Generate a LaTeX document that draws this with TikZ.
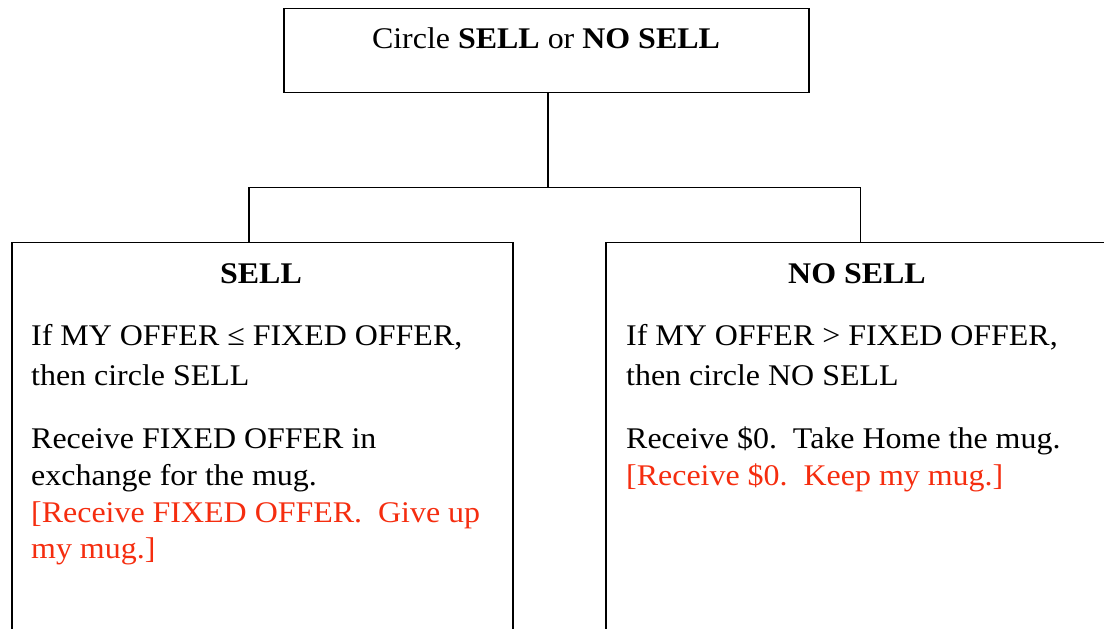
\documentclass[tikz,border=0pt]{standalone}
\usepackage{fontspec}
\setmainfont[FakeStretch=1.065]{Liberation Serif}
\definecolor{redtxt}{RGB}{245,45,15}
\begin{document}
\begin{tikzpicture}[x=1pt,y=-1pt,
  box/.style={draw,line width=1.8pt,inner sep=0pt},
  ln/.style={anchor=base west,inner sep=0pt,font=\fontsize{30}{37}\selectfont},
  hd/.style={anchor=base,inner sep=0pt,font=\fontsize{30}{37}\selectfont\bfseries},
  conn/.style={line width=1.8pt}]
\useasboundingbox (0,0) rectangle (1104,629);
\clip (0,0) rectangle (1104,629);
% boxes
\node[box,minimum width=525pt,minimum height=84pt] (top) at (546.5,50.5) {};
\node[box,minimum width=501pt,minimum height=420pt] (lb) at (262.5,452.5) {};
\node[box,minimum width=510pt,minimum height=420pt] (rb) at (861,452.5) {};
% connectors
\coordinate (j) at (548,187.5);
\coordinate (jl) at (249,187.5);
\coordinate (jr) at (860.5,187.5);
\draw[conn] (j |- top.south) -- (j);
\draw[conn] (jl |- lb.north) -- (jl) -- (jr) -- (jr |- rb.north);
% top text
\node[anchor=base,inner sep=0pt,font=\fontsize{30}{37}\selectfont] (tt) at (546,48.5) {Circle \textbf{SELL} or \textbf{NO SELL}};
% left text
\node[hd] (lh) at (261,283) {SELL};
\node[ln] (l1) at (31,345) {If MY OFFER ≤ FIXED OFFER,};
\node[ln] (l2) at (31,385) {then circle SELL};
\node[ln] (l3) at (31,448) {Receive FIXED OFFER in};
\node[ln] (l4) at (31,485) {exchange for the mug.};
\node[ln,text=redtxt] (l5) at (31,522) {[Receive FIXED OFFER.\ \ Give up};
\node[ln,text=redtxt] (l6) at (31,558) {my mug.]};
% right text
\node[hd] (rh) at (857,283) {NO SELL};
\node[ln] (r1) at (626,345) {If MY OFFER > FIXED OFFER,};
\node[ln] (r2) at (626,385) {then circle NO SELL};
\node[ln] (r3) at (626,448) {Receive \$0.\ \ Take Home the mug.};
\node[ln,text=redtxt] (r4) at (626,485) {[Receive \$0.\ \ Keep my mug.]};
\end{tikzpicture}
\end{document}
